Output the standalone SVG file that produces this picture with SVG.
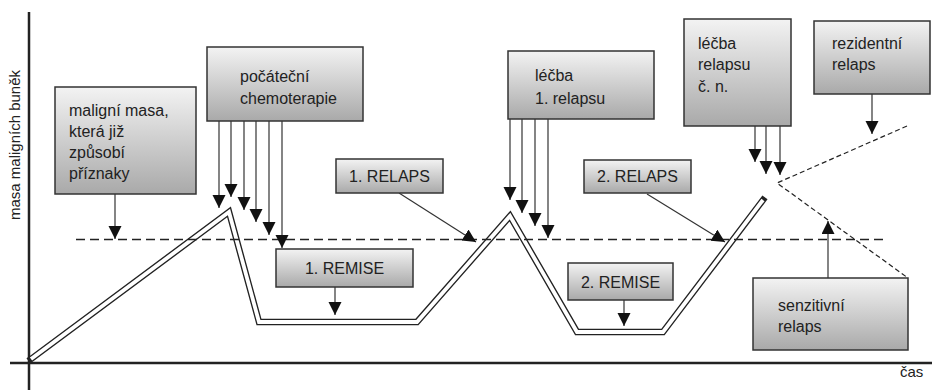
<svg xmlns="http://www.w3.org/2000/svg" width="932" height="390" viewBox="0 0 932 390">
<defs>
<linearGradient id="g" x1="0" y1="0" x2="0" y2="1">
<stop offset="0" stop-color="#f3f3f3"/>
<stop offset="1" stop-color="#a9a9a9"/>
</linearGradient>
<marker id="ah" markerUnits="userSpaceOnUse" markerWidth="14" markerHeight="14" refX="13" refY="6.5" orient="auto" viewBox="0 0 14 14">
<path d="M0,0 L13,6.5 L0,13 z" fill="#111"/>
</marker>
</defs>
<style>
.box{fill:url(#g);stroke:#333;stroke-width:1.5}
.t{font-family:"Liberation Sans",Arial,sans-serif;font-size:16px;fill:#222}
.c{text-anchor:middle}
.arr{stroke:#333;stroke-width:1.2;fill:none;marker-end:url(#ah)}
.axis{stroke:#222;stroke-width:2.5}
</style>

<g id="axes">
<line class="axis" x1="29" y1="12" x2="29" y2="390"/>
<line class="axis" x1="10" y1="363" x2="932" y2="363"/>
<text class="t c" transform="translate(20,145) rotate(-90)" style="font-size:15px">masa maligních buněk</text>
<text class="t" x="900" y="377" style="font-size:15px">čas</text>
</g>

<g id="curve">
<path d="M31,359 L229,212 L259,322 L417,322 L510,216 L577,332 L663,332 L763,200" fill="none" stroke="#222" stroke-width="6.5" stroke-linejoin="miter" stroke-linecap="square"/>
<path d="M31,359 L229,212 L259,322 L417,322 L510,216 L577,332 L663,332 L763,200" fill="none" stroke="#fff" stroke-width="3.8" stroke-linejoin="miter" stroke-linecap="butt"/>
</g>

<g id="connectors">
<line x1="76" y1="239.5" x2="883" y2="239.5" stroke="#222" stroke-width="1.3" stroke-dasharray="9,5"/>
<polyline points="907,126 777,183 908,278" fill="none" stroke="#222" stroke-width="1.2" stroke-dasharray="5,3"/>
<line class="arr" x1="115" y1="194" x2="115" y2="239"/>
<line class="arr" x1="219" y1="121" x2="219" y2="208"/>
<line class="arr" x1="231" y1="121" x2="231" y2="197"/>
<line class="arr" x1="244" y1="121" x2="244" y2="210"/>
<line class="arr" x1="256" y1="121" x2="256" y2="222"/>
<line class="arr" x1="269" y1="121" x2="269" y2="235"/>
<line class="arr" x1="282" y1="121" x2="282" y2="248"/>
<line class="arr" x1="399" y1="193" x2="476" y2="242"/>
<line class="arr" x1="335" y1="287" x2="335" y2="315"/>
<line class="arr" x1="510" y1="119" x2="510" y2="200"/>
<line class="arr" x1="522" y1="119" x2="522" y2="213"/>
<line class="arr" x1="535" y1="119" x2="535" y2="226"/>
<line class="arr" x1="548" y1="119" x2="548" y2="238"/>
<line class="arr" x1="647" y1="194" x2="725" y2="242"/>
<line class="arr" x1="624" y1="300" x2="624" y2="326"/>
<line class="arr" x1="755" y1="126" x2="755" y2="162"/>
<line class="arr" x1="766" y1="126" x2="766" y2="174"/>
<line class="arr" x1="780" y1="126" x2="780" y2="175"/>
<line class="arr" x1="872" y1="94" x2="872" y2="134"/>
<line class="arr" x1="828" y1="278" x2="828" y2="221"/>
</g>

<g id="node-malignimasa">
<rect class="box" x="55" y="87" width="141" height="107"/>
<text class="t" x="69" y="116">maligní masa,</text>
<text class="t" x="69" y="137">která již</text>
<text class="t" x="69" y="158">způsobí</text>
<text class="t" x="69" y="179">příznaky</text>
</g>

<g id="node-chemo">
<rect class="box" x="207" y="47" width="156" height="74"/>
<text class="t" x="240" y="82">počáteční</text>
<text class="t" x="240" y="104">chemoterapie</text>
</g>

<g id="node-relaps1">
<rect class="box" x="336" y="159" width="107" height="34"/>
<text class="t c" x="389.5" y="182">1. RELAPS</text>
</g>

<g id="node-remise1">
<rect class="box" x="276" y="249" width="137" height="38"/>
<text class="t c" x="344.5" y="274">1. REMISE</text>
</g>

<g id="node-lecba1">
<rect class="box" x="508" y="51" width="146" height="68"/>
<text class="t" x="535" y="81">léčba</text>
<text class="t" x="535" y="104">1. relapsu</text>
</g>

<g id="node-relaps2">
<rect class="box" x="584" y="160" width="107" height="33"/>
<text class="t c" x="637.5" y="182">2. RELAPS</text>
</g>

<g id="node-remise2">
<rect class="box" x="568" y="263" width="105" height="37"/>
<text class="t c" x="620.5" y="288">2. REMISE</text>
</g>

<g id="node-lecbaN">
<rect class="box" x="684" y="19" width="107" height="107"/>
<text class="t" x="698" y="49">léčba</text>
<text class="t" x="698" y="70">relapsu</text>
<text class="t" x="698" y="92">č. n.</text>
</g>

<g id="node-rezidentni">
<rect class="box" x="814" y="21" width="116" height="73"/>
<text class="t" x="832" y="49">rezidentní</text>
<text class="t" x="832" y="70">relaps</text>
</g>

<g id="node-senzitivni">
<rect class="box" x="753" y="278" width="155" height="72"/>
<text class="t" x="778" y="311">senzitivní</text>
<text class="t" x="778" y="332">relaps</text>
</g>
</svg>
